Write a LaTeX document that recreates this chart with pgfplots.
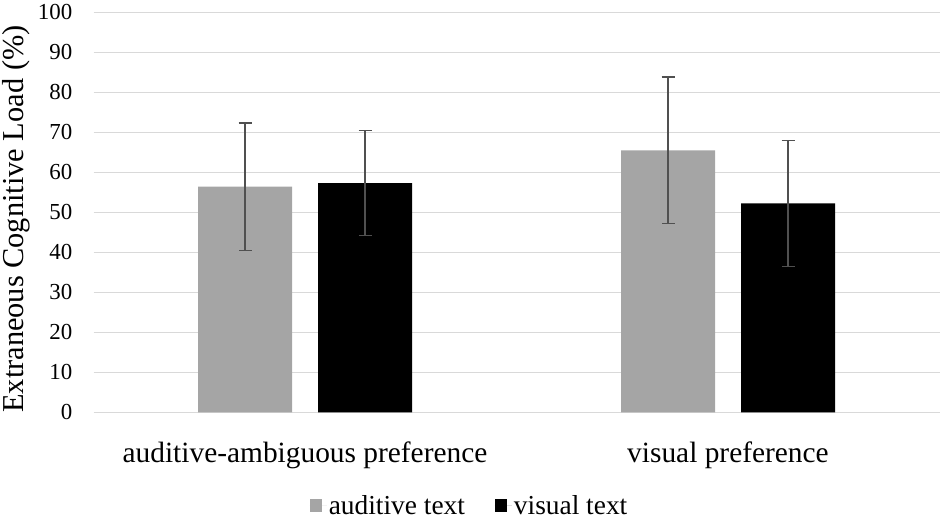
\documentclass[border=0pt]{standalone}
\usepackage{fontspec}
\setmainfont{Liberation Serif}
\usepackage{pgfplots}
\pgfplotsset{compat=1.18}
\definecolor{bargray}{HTML}{A5A5A5}
\definecolor{gridgray}{HTML}{D9D9D9}
\definecolor{errgray}{HTML}{505050}
\begin{document}
\begin{tikzpicture}
\path (0,0) rectangle (950bp,522bp);
\begin{axis}[
  at={(93.5bp,109.7bp)}, anchor=south west,
  scale only axis, width=846bp, height=400bp,
  xmin=-0.5, xmax=1.5, ymin=0, ymax=100,
  ytick={0,10,...,100},
  xtick={0,1},
  xticklabels={auditive-ambiguous preference, visual preference},
  axis line style={draw=none},
  tick style={draw=none},
  ymajorgrids, grid style={gridgray, line width=1.3bp},
  /pgf/number format/assume math mode=true,
  yticklabel style={font=\fontsize{23}{26}\selectfont, anchor=east, inner sep=0pt, xshift=-21bp},
  xticklabel style={font=\fontsize{29.5}{32}\selectfont, anchor=base, inner sep=0pt, yshift=-45.7bp},
  ylabel={Extraneous Cognitive Load (\%)},
  ylabel style={font=\fontsize{30.5}{34}\selectfont, at={(axis description cs:-0.0833,0.483)}, anchor=base, rotate=0, inner sep=0pt},
  ybar, bar width=94bp,
  legend columns=2,
  legend style={draw=none, at={(0.4445,-0.234)}, anchor=center, font=\fontsize{27.5}{30}\selectfont,
    /tikz/every even column/.append style={column sep=28bp}},
  legend image code/.code={\fill[#1] (0bp,-6bp) rectangle (12.5bp,7bp); \path (0bp,0bp) -- (17bp,0bp);},
  error bars/error bar style={errgray, line width=1.2bp},
  error bars/error mark options={errgray, line width=1.2bp, mark size=6.5bp, rotate=90},
]
\addplot[fill=bargray, draw=none, bar shift=-60bp,
  error bars/.cd, y dir=both, y explicit]
  coordinates {(0,56.4) +- (0,15.9) (1,65.5) +- (0,18.3)};
\addlegendentry{auditive text}
\addplot[fill=black, draw=none, bar shift=60bp,
  error bars/.cd, y dir=both, y explicit]
  coordinates {(0,57.3) +- (0,13.2) (1,52.2) +- (0,15.7)};
\addlegendentry{visual text}
\end{axis}
\end{tikzpicture}
\end{document}
